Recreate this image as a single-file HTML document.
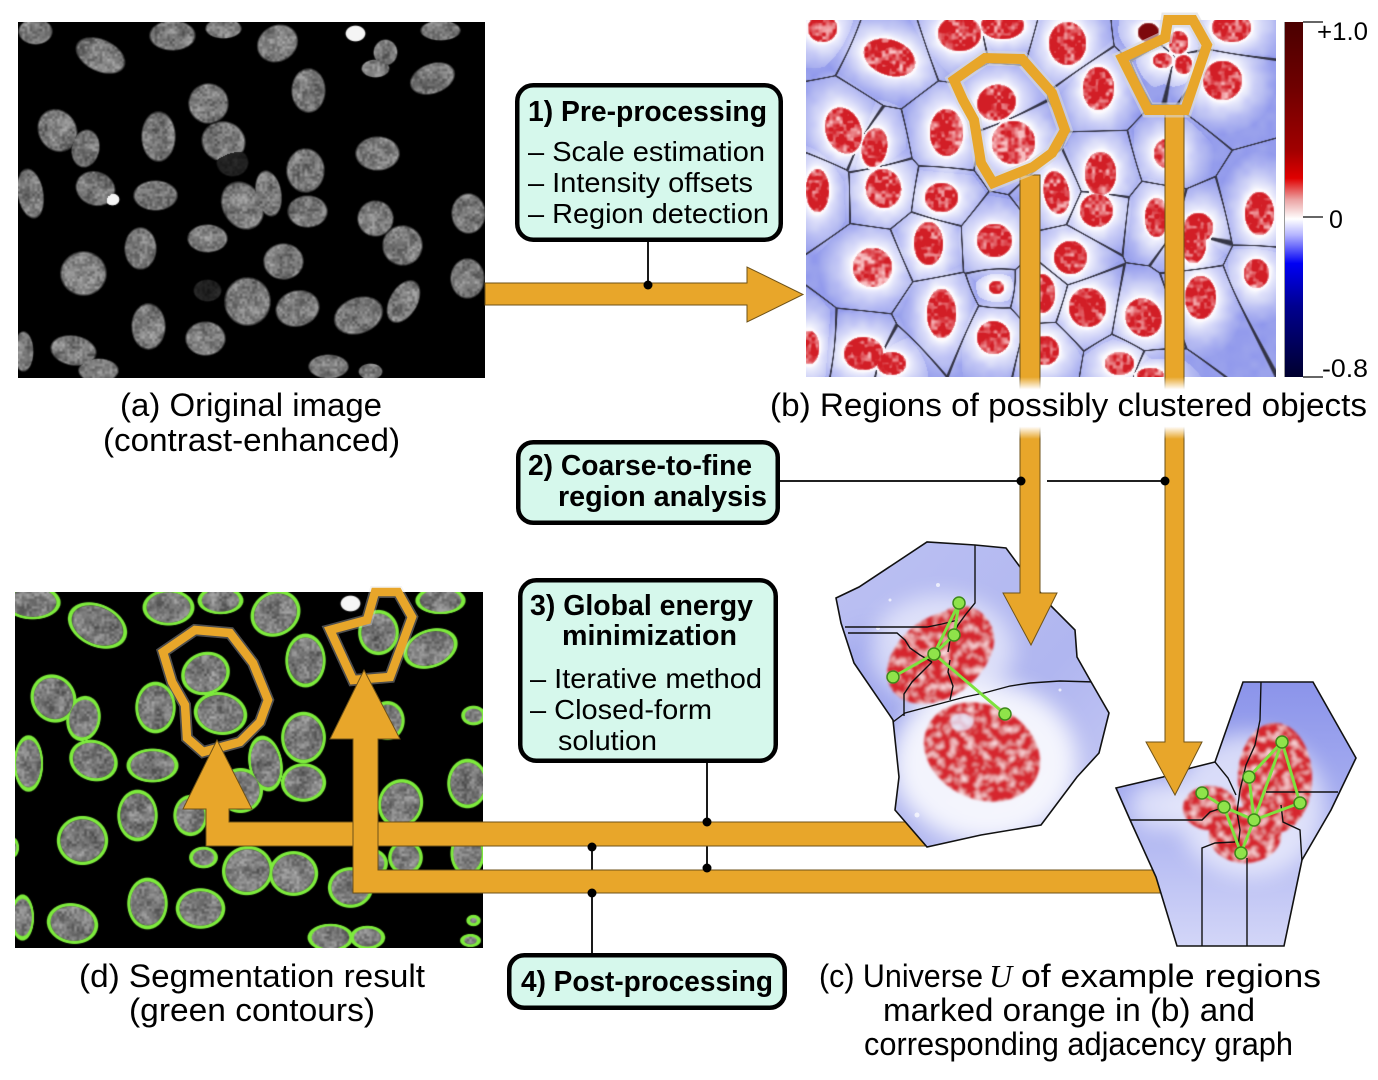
<!DOCTYPE html>
<html><head><meta charset="utf-8">
<style>
html,body{margin:0;padding:0;background:#fff;width:1378px;height:1080px;overflow:hidden}
#w{position:relative;width:1378px;height:1080px;background:#fff}
canvas{position:absolute}
svg{position:absolute;left:0;top:0}
text{font-family:"Liberation Sans",Arial,sans-serif;fill:#000}
.cap{font-size:32px}
.bt{font-size:29px;font-weight:bold}
.it{font-size:28px}
.cb{font-size:25px}
</style></head><body><div id="w">
<canvas id="ca" width="467" height="356" style="left:18px;top:22px;background:#000"></canvas>
<canvas id="cb" width="470" height="357" style="left:806px;top:20px;background:#c9cdf4"></canvas>
<canvas id="cd" width="468" height="356" style="left:15px;top:592px;background:#000"></canvas>
<svg width="1378" height="1080" viewBox="0 0 1378 1080">
<defs>
<linearGradient id="cbar" x1="0" y1="0" x2="0" y2="1">
<stop offset="0" stop-color="#4a0000"/><stop offset="0.18" stop-color="#6e0000"/><stop offset="0.36" stop-color="#a00000"/><stop offset="0.44" stop-color="#e00000"/><stop offset="0.5" stop-color="#eba2a2"/><stop offset="0.555" stop-color="#ffffff"/><stop offset="0.6" stop-color="#b4b4ff"/><stop offset="0.68" stop-color="#0000f5"/><stop offset="0.8" stop-color="#000090"/><stop offset="1" stop-color="#00002e"/>
</linearGradient>
<linearGradient id="fade" x1="0" y1="0" x2="0" y2="1">
<stop offset="0" stop-color="#fff" stop-opacity="0"/><stop offset="0.2" stop-color="#fff" stop-opacity="1"/><stop offset="0.8" stop-color="#fff" stop-opacity="1"/><stop offset="1" stop-color="#fff" stop-opacity="0"/>
</linearGradient>
<linearGradient id="g2" x1="0" y1="0" x2="0" y2="1">
<stop offset="0" stop-color="#8a93ea"/><stop offset="0.45" stop-color="#a7aef0"/><stop offset="1" stop-color="#d4d7f8"/>
</linearGradient>
<linearGradient id="g1" x1="0" y1="0" x2="1" y2="1">
<stop offset="0" stop-color="#bcc1f3"/><stop offset="0.6" stop-color="#b0b6f0"/><stop offset="1" stop-color="#c9ccf5"/>
</linearGradient>
<filter id="tex" x="-10%" y="-10%" width="120%" height="120%">
<feTurbulence type="fractalNoise" baseFrequency="0.12" numOctaves="2" seed="5" result="t"/>
<feColorMatrix in="t" type="matrix" values="0 0 0 0 1  0 0 0 0 0.82  0 0 0 0 0.85  2.4 0 0 0 -1.1" result="w"/>
<feComposite in="w" in2="SourceGraphic" operator="in" result="wm"/>
<feMerge><feMergeNode in="SourceGraphic"/><feMergeNode in="wm"/></feMerge>
</filter>
<filter id="soft" x="-20%" y="-20%" width="140%" height="140%"><feGaussianBlur stdDeviation="1.3"/></filter>
<filter id="glow" x="-60%" y="-60%" width="220%" height="220%"><feGaussianBlur stdDeviation="11"/></filter>
<clipPath id="k1"><polygon points="836,598 859,587 927,542 975,545 1006,548 1020,567 1052,607 1075,630 1077,657 1090,680 1109,713 1099,753 1077,777 1041,825 981,835 927,847 895,810 899,777 893,720 854,663 841,623"/></clipPath>
<clipPath id="k2"><polygon points="1116,788 1163,777 1191,768 1215,762 1243,682 1313,682 1356,758 1331,810 1302,860 1284,946 1177,946 1156,877 1131,822"/></clipPath>
</defs>

<!-- colorbar -->
<rect x="1285" y="22" width="18" height="355" fill="url(#cbar)"/>
<line x1="1284.5" y1="22" x2="1284.5" y2="377" stroke="#999" stroke-width="1"/>
<g stroke="#333" stroke-width="1.5">
<line x1="1303" y1="22" x2="1323" y2="22"/><line x1="1303" y1="217" x2="1323" y2="217"/><line x1="1303" y1="377" x2="1323" y2="377"/>
</g>
<text class="cb" x="1317" y="40" textLength="51" lengthAdjust="spacingAndGlyphs">+1.0</text>
<text class="cb" x="1329" y="228">0</text>
<text class="cb" x="1322" y="377" textLength="46" lengthAdjust="spacingAndGlyphs">-0.8</text>

<!-- connector lines for boxes 3 and 4 -->
<line x1="707" y1="763" x2="707" y2="868" stroke="#000" stroke-width="1.8"/>
<line x1="592" y1="953" x2="592" y2="847" stroke="#000" stroke-width="1.8"/>

<!-- orange polygons in (d) -->
<g fill="none" stroke-linejoin="miter">
<polygon points="163,652 195,630 230,633 253,663 268,700 260,722 240,742 203,752 187,738 185,705 172,682" stroke="#e0e0e0" stroke-width="12" opacity=".35"/>
<polygon points="163,652 195,630 230,633 253,663 268,700 260,722 240,742 203,752 187,738 185,705 172,682" stroke="#e8a62a" stroke-width="8.5"/>
<polygon points="330,630 367,620 375,592 398,592 412,617 390,677 353,680" stroke="#e0e0e0" stroke-width="12" opacity=".35"/>
<polygon points="330,630 367,620 375,592 398,592 412,617 390,677 353,680" stroke="#e8a62a" stroke-width="8.5"/>
</g>

<!-- L arrows -->
<path d="M217,740 L252,809 H229 V822 H925 V846 H206 V809 H183 Z" fill="#e8a62a" stroke="#6e5218" stroke-width="1"/>
<path d="M364,670 L400,739 H378 V870 H1160 V893 H353 V739 H330 Z" fill="#e8a62a" stroke="#6e5218" stroke-width="1"/>
<g fill="#000">
<circle cx="707" cy="822" r="4.5"/><circle cx="707" cy="868" r="4.5"/>
<circle cx="592" cy="847" r="4.5"/><circle cx="592" cy="893" r="4.5"/>
</g>

<!-- region c1 -->
<g clip-path="url(#k1)">
<rect x="830" y="538" width="285" height="315" fill="url(#g1)"/>
<ellipse cx="870" cy="700" rx="40" ry="70" fill="#9aa2ec" opacity=".7" filter="url(#glow)"/>
<ellipse cx="985" cy="762" rx="92" ry="80" fill="#fff" opacity=".85" filter="url(#glow)"/>
<ellipse cx="942" cy="650" rx="72" ry="55" fill="#fff" opacity=".55" filter="url(#glow)"/>
<g fill="#fff" opacity=".7"><circle cx="878" cy="628" r="2"/><circle cx="890" cy="600" r="1.5"/><circle cx="938" cy="585" r="2"/><circle cx="1060" cy="690" r="1.5"/><circle cx="917" cy="815" r="2.5"/></g>
<g filter="url(#soft)"><g filter="url(#tex)" fill="#d6252d">
<ellipse cx="940" cy="657" rx="58" ry="40" transform="rotate(-35 940 657)"/>
<ellipse cx="962" cy="640" rx="32" ry="34"/>
<ellipse cx="982" cy="752" rx="60" ry="47" transform="rotate(25 982 752)"/>
</g></g>
<ellipse cx="962" cy="722" rx="12" ry="9" fill="#e8ecff" opacity=".8" filter="url(#soft)"/>
<g fill="none" stroke="#111" stroke-width="1.4">
<path d="M975,545 L975,603 L966,614 L958,625 L950,640 L948,652"/>
<path d="M845,627 L927,627 L942,624 L958,620"/>
<path d="M848,633 L897,633 L905,640 L910,648 L920,655 L932,662"/>
<path d="M893,722 L905,713 L935,705 L965,697 L984,693 L1010,686 L1030,683 L1060,681 L1095,682"/>
<path d="M904,716 L904,694 L912,682 L922,672 L932,662"/>
<path d="M950,700 L953,686 L948,672 L950,660"/>
</g>
</g>
<polygon points="836,598 859,587 927,542 975,545 1006,548 1020,567 1052,607 1075,630 1077,657 1090,680 1109,713 1099,753 1077,777 1041,825 981,835 927,847 895,810 899,777 893,720 854,663 841,623" fill="none" stroke="#111" stroke-width="1.6"/>
<g stroke="#7ee23e" stroke-width="3" stroke-linecap="round">
<line x1="959" y1="603" x2="954" y2="635"/><line x1="959" y1="603" x2="934" y2="654"/><line x1="954" y1="635" x2="934" y2="654"/><line x1="934" y1="654" x2="893" y2="677"/><line x1="934" y1="654" x2="1005" y2="714"/>
</g>
<g fill="#8fe34a" stroke="#3d8a1a" stroke-width="1.5">
<circle cx="959" cy="603" r="6"/><circle cx="954" cy="635" r="6"/><circle cx="934" cy="654" r="6"/><circle cx="893" cy="677" r="6"/><circle cx="1005" cy="714" r="6"/>
</g>

<!-- region c2 -->
<g clip-path="url(#k2)">
<rect x="1110" y="678" width="250" height="272" fill="url(#g2)"/>
<ellipse cx="1250" cy="805" rx="75" ry="72" fill="#fff" opacity=".6" filter="url(#glow)"/>
<ellipse cx="1160" cy="805" rx="30" ry="25" fill="#fff" opacity=".6" filter="url(#glow)"/>
<g filter="url(#soft)"><g filter="url(#tex)" fill="#d6252d">
<ellipse cx="1275" cy="778" rx="37" ry="55"/>
<ellipse cx="1210" cy="808" rx="27" ry="22"/>
<ellipse cx="1245" cy="835" rx="36" ry="28"/>
</g></g>
<g fill="none" stroke="#111" stroke-width="1.4">
<path d="M1261,682 L1260,720 L1255,745 L1246,765 L1240,790 L1237,812 L1240,830 L1238,848"/>
<path d="M1215,762 L1228,778 L1236,795"/>
<path d="M1127,820 L1202,820 L1210,812 L1222,808"/>
<path d="M1266,792 L1338,792"/>
<path d="M1281,805 L1283,822 L1300,830 L1302,862"/>
<path d="M1202,950 L1202,848 L1215,843 L1235,842"/>
<path d="M1247,950 L1247,858"/>
</g>
</g>
<polygon points="1116,788 1163,777 1191,768 1215,762 1243,682 1313,682 1356,758 1331,810 1302,860 1284,946 1177,946 1156,877 1131,822" fill="none" stroke="#111" stroke-width="1.6"/>
<g stroke="#7ee23e" stroke-width="3" stroke-linecap="round">
<line x1="1282" y1="742" x2="1249" y2="777"/><line x1="1282" y1="742" x2="1254" y2="820"/><line x1="1282" y1="742" x2="1300" y2="803"/><line x1="1249" y1="777" x2="1254" y2="820"/><line x1="1202" y1="793" x2="1224" y2="807"/><line x1="1224" y1="807" x2="1241" y2="853"/><line x1="1241" y1="853" x2="1254" y2="820"/><line x1="1254" y1="820" x2="1300" y2="803"/><line x1="1224" y1="807" x2="1254" y2="820"/>
</g>
<g fill="#8fe34a" stroke="#3d8a1a" stroke-width="1.5">
<circle cx="1282" cy="742" r="6"/><circle cx="1249" cy="777" r="6"/><circle cx="1202" cy="793" r="6"/><circle cx="1224" cy="807" r="6"/><circle cx="1254" cy="820" r="6"/><circle cx="1300" cy="803" r="6"/><circle cx="1241" cy="853" r="6"/>
</g>

<!-- box2 connector line -->
<line x1="780" y1="481" x2="1021" y2="481" stroke="#000" stroke-width="1.8"/>
<line x1="1047" y1="481" x2="1165" y2="481" stroke="#000" stroke-width="1.8"/>

<!-- vertical arrows from (b) -->
<path d="M1020,175 H1040 V593 H1057 L1031,645 L1003,593 H1020 Z" fill="#e8a62a" stroke="#6e5218" stroke-width="1"/>
<path d="M1165,105 H1184 V742 H1202 L1175,795 L1146,742 H1165 Z" fill="#e8a62a" stroke="#6e5218" stroke-width="1"/>

<!-- orange polygons in (b) -->
<g fill="none" stroke-linejoin="miter">
<polygon points="954,80 985,58 1022,59 1052,93 1065,130 1052,153 1033,167 993,183 981,163 974,120 963,100" stroke="#d8d8d8" stroke-width="15" opacity=".6"/>
<polygon points="954,80 985,58 1022,59 1052,93 1065,130 1052,153 1033,167 993,183 981,163 974,120 963,100" stroke="#e8a62a" stroke-width="10"/>
<polygon points="1122,58 1165,38 1168,20 1193,20 1207,45 1185,110 1148,110" stroke="#d8d8d8" stroke-width="15" opacity=".6"/>
<polygon points="1122,58 1165,38 1168,20 1193,20 1207,45 1185,110 1148,110" stroke="#e8a62a" stroke-width="10"/>
</g>

<!-- fade of bars behind caption (b) -->
<rect x="1014" y="377" width="32" height="62" fill="url(#fade)"/>
<rect x="1159" y="377" width="32" height="62" fill="url(#fade)"/>

<g fill="#000"><circle cx="1021" cy="481" r="4.5"/><circle cx="1165" cy="481" r="4.5"/></g>

<!-- arrow 1 -->
<line x1="648" y1="242" x2="648" y2="285" stroke="#000" stroke-width="1.8"/>
<path d="M485,283 H747 V267 L803,294.5 L747,322 V305 H485 Z" fill="#e8a62a" stroke="#6e5218" stroke-width="1"/>
<circle cx="648" cy="285" r="4.5" fill="#000"/>

<!-- boxes -->
<rect x="517.25" y="85.25" width="263.5" height="154.5" rx="16" fill="#d6f8ec" stroke="#000" stroke-width="4.5"/>
<text class="bt" x="528" y="121" textLength="239" lengthAdjust="spacingAndGlyphs">1) Pre-processing</text>
<text class="it" x="528" y="161" textLength="237" lengthAdjust="spacingAndGlyphs">– Scale estimation</text>
<text class="it" x="528" y="192" textLength="225" lengthAdjust="spacingAndGlyphs">– Intensity offsets</text>
<text class="it" x="528" y="223" textLength="241" lengthAdjust="spacingAndGlyphs">– Region detection</text>

<rect x="518.25" y="442.25" width="259.5" height="80.5" rx="15" fill="#d6f8ec" stroke="#000" stroke-width="4.5"/>
<text class="bt" x="528" y="475" textLength="224" lengthAdjust="spacingAndGlyphs">2) Coarse-to-fine</text>
<text class="bt" x="558" y="506" textLength="209" lengthAdjust="spacingAndGlyphs">region analysis</text>

<rect x="520.25" y="580.25" width="255.5" height="180.5" rx="16" fill="#d6f8ec" stroke="#000" stroke-width="4.5"/>
<text class="bt" x="530" y="615" textLength="223" lengthAdjust="spacingAndGlyphs">3) Global energy</text>
<text class="bt" x="562" y="645" textLength="175" lengthAdjust="spacingAndGlyphs">minimization</text>
<text class="it" x="530" y="688" textLength="232" lengthAdjust="spacingAndGlyphs">– Iterative method</text>
<text class="it" x="530" y="719" textLength="182" lengthAdjust="spacingAndGlyphs">– Closed-form</text>
<text class="it" x="558" y="750" textLength="99" lengthAdjust="spacingAndGlyphs">solution</text>

<rect x="509.25" y="955.25" width="275.5" height="52.5" rx="15" fill="#d6f8ec" stroke="#000" stroke-width="4.5"/>
<text class="bt" x="521" y="991" textLength="252" lengthAdjust="spacingAndGlyphs">4) Post-processing</text>

<!-- captions -->
<text class="cap" x="120" y="416" textLength="262" lengthAdjust="spacingAndGlyphs">(a) Original image</text>
<text class="cap" x="103" y="451" textLength="297" lengthAdjust="spacingAndGlyphs">(contrast-enhanced)</text>
<text class="cap" x="770" y="416" textLength="597" lengthAdjust="spacingAndGlyphs">(b) Regions of possibly clustered objects</text>
<text class="cap" x="79" y="987" textLength="346" lengthAdjust="spacingAndGlyphs">(d) Segmentation result</text>
<text class="cap" x="129" y="1021" textLength="246" lengthAdjust="spacingAndGlyphs">(green contours)</text>
<text class="cap" x="819" y="987" textLength="164" lengthAdjust="spacingAndGlyphs">(c) Universe</text>
<text x="989" y="987" style="font-family:'Liberation Serif','DejaVu Serif',serif;font-style:italic;font-size:32px">U</text>
<text class="cap" x="1021" y="987" textLength="300" lengthAdjust="spacingAndGlyphs">of example regions</text>
<text class="cap" x="883" y="1021" textLength="372" lengthAdjust="spacingAndGlyphs">marked orange in (b) and</text>
<text class="cap" x="864" y="1055" textLength="429" lengthAdjust="spacingAndGlyphs">corresponding adjacency graph</text>
</svg></div>
<script>
(function(){
function R(seed){var s=seed;return function(){s=s*16807%2147483647;return (s-1)/2147483646;};}
function VN(w,h,cell,r){var gw=Math.ceil(w/cell)+3,gh=Math.ceil(h/cell)+3,g=new Float32Array(gw*gh);for(var i=0;i<g.length;i++)g[i]=r();
return function(x,y){var fx=x/cell,fy=y/cell,ix=fx|0,iy=fy|0,tx=fx-ix,ty=fy-iy,sx=tx*tx*(3-2*tx),sy=ty*ty*(3-2*ty),i=iy*gw+ix,a=g[i],b=g[i+1],c=g[i+gw],d=g[i+gw+1];return a+(b-a)*sx+(c-a)*sy+(a-b-c+d)*sx*sy;};}
function prep(list,ox,oy){return list.map(function(e){var t=(e[4]||0)*Math.PI/180;return {x:e[0]-ox,y:e[1]-oy,rx:e[2],ry:e[3],c:Math.cos(t),s:Math.sin(t),f:e[5]||0};});}
function rr(e,x,y){var dx=x-e.x,dy=y-e.y,u=(dx*e.c+dy*e.s)/e.rx,v=(-dx*e.s+dy*e.c)/e.ry;return Math.sqrt(u*u+v*v);}

var A=[[35,31,17,13,0],[100,55,26,16,25],[172,35,23,15,0],[223,28,18,10,0],[277,43,21,18,-30],[355,33,10,8,0,1],[385,52,12,13,0],[375,68,14,9,0],[440,30,20,10,0],[432,78,23,15,-20],[208,103,20,20,0],[308,90,17,22,0],[57,130,19,22,-30],[85,148,14,19,10],[158,136,17,25,0],[223,141,22,20,15],[377,153,22,17,0],[305,170,19,22,0],[30,193,13,25,-10],[95,188,20,17,20],[112,199,7,6,0,1],[155,195,22,15,0],[242,205,20,25,-30],[268,193,13,23,-10],[307,211,20,16,0],[375,218,18,18,0],[468,213,17,20,0],[140,248,16,21,0],[207,238,20,14,0],[402,245,20,20,30],[83,273,23,22,0],[283,261,20,18,0],[467,278,17,20,0],[247,301,23,24,0],[297,308,22,18,-15],[358,315,25,18,-20],[403,301,14,23,30],[148,326,17,23,0],[205,338,20,17,0],[73,350,23,15,10],[23,351,10,20,0],[98,370,20,12,0],[328,366,20,12,0],[370,371,12,8,0],[207,290,14,11,0,2],[232,162,16,14,0,2]];

var Dn=[[32,602,25,15,0],[97,625,28,19,25],[168,607,23,16,0],[220,600,20,12,0],[275,613,23,20,-30],[350,603,10,8,0,1],[440,600,22,12,0],[205,673,22,19,-20],[220,713,24,19,10],[305,660,18,24,0],[378,632,18,20,0],[430,648,25,17,-20],[53,698,20,22,-30],[83,718,15,20,10],[155,707,18,23,0],[28,763,13,25,0],[93,760,22,18,20],[152,765,23,15,0],[265,763,15,25,-10],[303,737,20,23,0],[303,782,20,17,0],[387,720,15,17,0],[473,715,10,8,0],[467,783,18,22,0],[137,815,18,23,0],[82,840,23,22,0],[203,857,12,9,0],[247,870,23,22,-20],[293,873,22,20,0],[370,863,15,13,0],[400,803,20,22,20],[147,903,18,23,0],[200,908,22,18,0],[350,887,20,18,0],[72,923,23,18,10],[22,917,10,20,0],[330,937,20,12,0],[467,853,15,20,0],[405,857,15,15,0],[367,937,15,10,0],[473,920,5,4,0],[470,940,8,5,0],[12,847,5,8,0],[240,790,20,20,0],[190,815,15,18,0]];

var BL=[[889,57,27,18,20],[959,33,22,18,0],[1002,25,22,14,0],[1067,43,19,22,0],[1148,32,11,10,0,2],[1231,27,20,15,0],[822,28,15,14,0],[1178,42,10,12,0],[1162,60,10,8,0],[1183,64,9,10,0],[996,102,20,18,-20],[1013,142,22,22,0,3],[1098,88,16,22,0],[1222,80,20,20,0],[843,130,18,24,-20],[874,147,13,20,10],[946,132,17,24,0],[817,190,12,22,0],[883,188,18,20,-10],[941,197,17,15,0],[1056,192,13,22,-10],[1100,173,16,22,0],[1167,153,14,15,0],[1259,213,15,22,0],[1096,210,17,17,0],[1156,217,12,20,0],[1198,227,15,15,0],[928,243,15,22,0],[994,240,18,17,0],[1070,257,17,17,0],[872,267,20,20,0,3],[996,287,8,7,0],[1041,293,14,20,0],[1193,243,13,20,0],[1256,273,13,15,0],[941,313,15,25,0],[1087,307,19,20,0],[1143,317,18,20,-30],[1200,297,16,22,0],[863,353,20,17,0],[993,337,17,17,0],[1044,350,15,15,0],[1119,363,15,12,0],[809,347,10,17,0],[891,363,15,12,0],[1150,375,14,8,0]];

function gray(id,ox,oy,list,contour,seed){
 var cv=document.getElementById(id);if(!cv||!cv.getContext)return;var ctx=cv.getContext('2d'),W=cv.width,H=cv.height;
 var img=ctx.createImageData(W,H),D=img.data,r=R(seed),n1=VN(W,H,2.5,r),n2=VN(W,H,9,r),E=prep(list,ox,oy);
 for(var y=0;y<H;y++)for(var x=0;x<W;x++){
  var rm=99,bi=-1;
  for(var k=0;k<E.length;k++){var e=E[k],m=Math.max(e.rx,e.ry)+6;if(Math.abs(x-e.x)>m||Math.abs(y-e.y)>m)continue;var q=rr(e,x,y);if(q<rm){rm=q;bi=k;}}
  var c0=0,c1=0,c2=0;
  if(bi>=0){var e=E[bi],cov=Math.max(0,Math.min(1,(1.04-rm)/0.12)),v;
   if(e.f==1)v=cov*245;else{var b=e.f==2?0.15:0.56;v=cov*b*255*(0.65+0.4*n1(x,y)+0.35*(n2(x,y)-0.5));}
   c0=c1=c2=v;
   if(contour&&e.f!=1){var pd=(rm-1.04)*(e.rx+e.ry)*0.5,ad=Math.abs(pd),a=ad<1.2?1:(ad<2.2?(2.2-ad):0);
    if(a>0){c0=c0*(1-a)+125*a;c1=c1*(1-a)+235*a;c2=c2*(1-a)+60*a;}}
  }
  var i=(y*W+x)*4;D[i]=c0;D[i+1]=c1;D[i+2]=c2;D[i+3]=255;}
 ctx.putImageData(img,0,0);}

function heat(){
 var cv=document.getElementById('cb');if(!cv||!cv.getContext)return;var ctx=cv.getContext('2d'),W=cv.width,H=cv.height;
 var img=ctx.createImageData(W,H),D=img.data,r=R(77),n1=VN(W,H,3.5,r),n2=VN(W,H,8,r),E=prep(BL,806,20);
 for(var y=0;y<H;y++)for(var x=0;x<W;x++){
  var d1=1e9,d2=1e9,rm=99,bi=0;
  for(var k=0;k<E.length;k++){var e=E[k],dx=x-e.x,dy=y-e.y,d=Math.sqrt(dx*dx+dy*dy)-(e.rx+e.ry)*0.5;
   if(d<d1){d2=d1;d1=d;}else if(d<d2)d2=d;
   var q=rr(e,x,y);if(q<rm){rm=q;bi=k;}}
  var e=E[bi],pd=(rm-1)*(e.rx+e.ry)*0.5,c0,c1,c2;
  if(pd<0){var t=n1(x,y)*1.2+(n2(x,y)-0.5)*0.9-0.45;if(e.f==3)t+=0.3;t=t<0?0:t>1?1:t;
   if(e.f==2){c0=125;c1=8;c2=12;}else{c0=210+38*t;c1=30+160*t;c2=38+155*t;}
   if(pd>-1.5){var a=(pd+1.5)/1.5*0.6;c0=c0*(1-a)+250*a;c1=c1*(1-a)+240*a;c2=c2*(1-a)+244*a;}
  }else if(pd<2){c0=252;c1=248;c2=252;}
  else{var t2=(pd-2)/32;t2=t2>1?1:t2;t2=Math.pow(t2,0.75);var nn=(n2(x,y)-0.5)*12;c0=246-96*t2+nn;c1=246-88*t2+nn;c2=254-18*t2;}
  var g=d2-d1;
  if(g<1.8&&pd>2){var a2=g<0.8?0.95:0.95*(1.8-g);c0=c0*(1-a2)+45*a2;c1=c1*(1-a2)+45*a2;c2=c2*(1-a2)+60*a2;}
  var i=(y*W+x)*4;D[i]=c0;D[i+1]=c1;D[i+2]=c2;D[i+3]=255;}
 ctx.putImageData(img,0,0);}

try{gray('ca',18,22,A,false,11);}catch(e){}
try{gray('cd',15,592,Dn,true,23);}catch(e){}
try{heat();}catch(e){}
})();
</script>
</body></html>
